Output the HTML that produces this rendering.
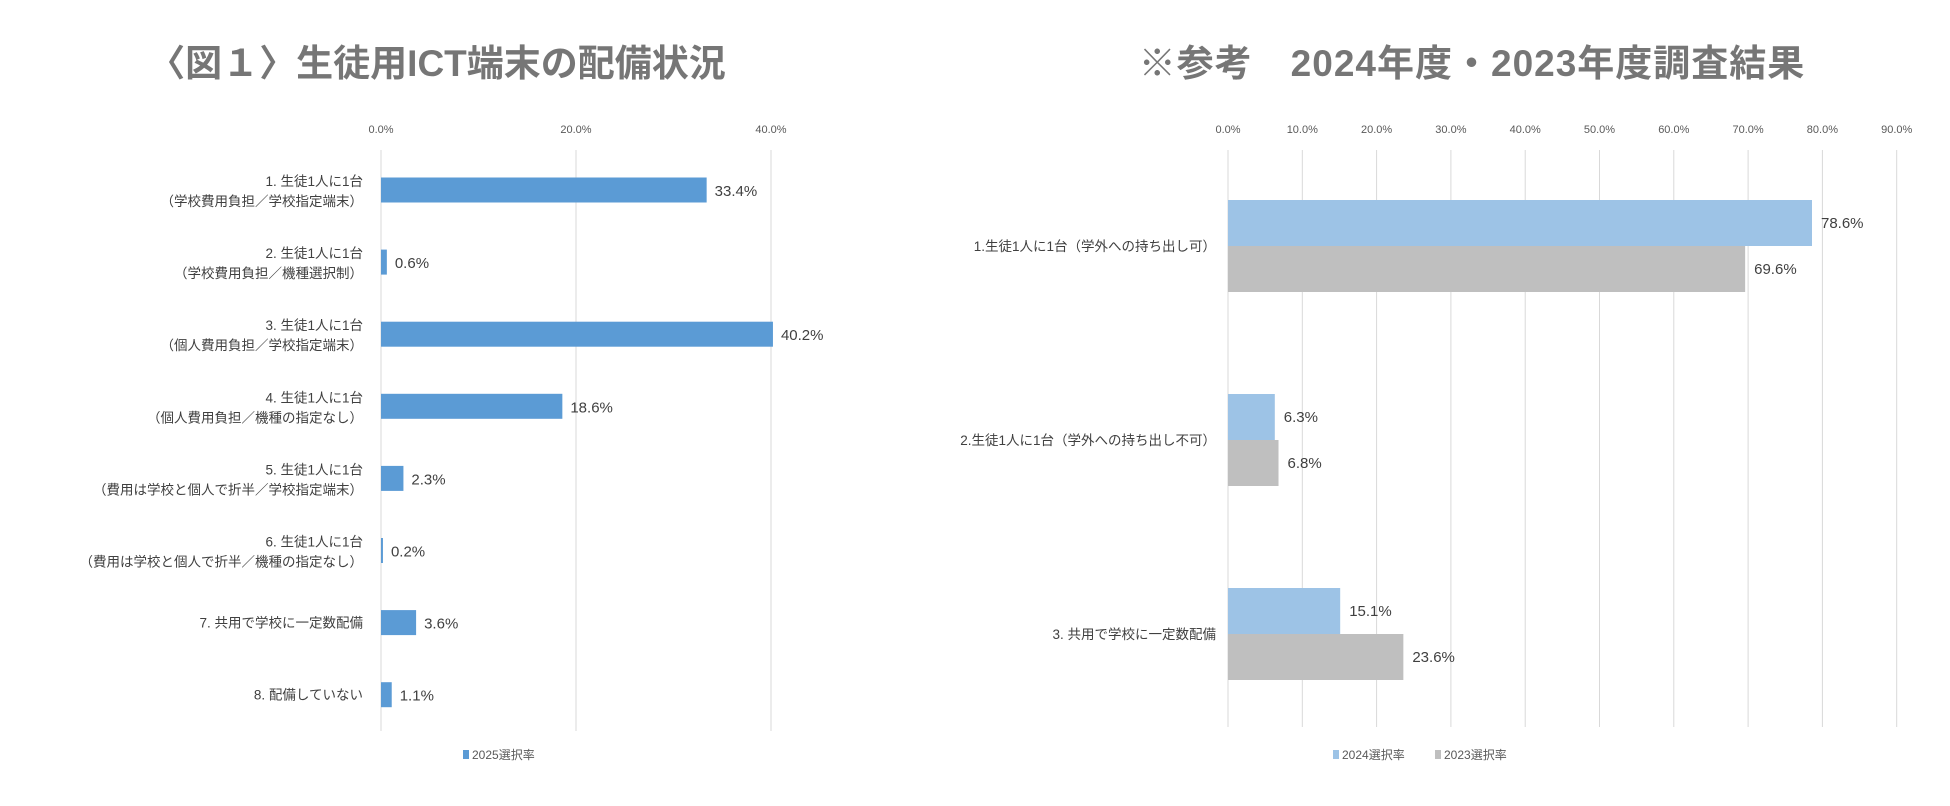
<!DOCTYPE html>
<html><head><meta charset="utf-8"><style>
html,body{margin:0;padding:0;background:#fff;}
svg{display:block;font-family:"Liberation Sans","Noto Sans CJK JP",sans-serif;}
</style></head><body>
<svg id="c" width="1950" height="806" xmlns="http://www.w3.org/2000/svg">
<text x="437" y="76" text-anchor="middle" font-size="37" font-weight="bold" fill="#767676">〈図１〉生徒用ICT端末の配備状況</text>
<text x="1472" y="76" text-anchor="middle" font-size="37" font-weight="bold" fill="#767676" letter-spacing="1">※参考　2024年度・2023年度調査結果</text>
<g id="L"></g>
<g id="R"></g>
</svg>
<script>
const leftCats=[["1.  生徒1人に1台","（学校費用負担／学校指定端末）"],["2.  生徒1人に1台","（学校費用負担／機種選択制）"],["3.  生徒1人に1台","（個人費用負担／学校指定端末）"],["4.  生徒1人に1台","（個人費用負担／機種の指定なし）"],["5.  生徒1人に1台","（費用は学校と個人で折半／学校指定端末）"],["6.  生徒1人に1台","（費用は学校と個人で折半／機種の指定なし）"],["7.  共用で学校に一定数配備"],["8.  配備していない"]];
const leftVals=[33.4,0.6,40.2,18.6,2.3,0.2,3.6,1.1];
const leftTicks=[0,20,40];
const rightCats=["1.生徒1人に1台（学外への持ち出し可）","2.生徒1人に1台（学外への持ち出し不可）","3.  共用で学校に一定数配備"];
const vals2024=[78.6,6.3,15.1];
const vals2023=[69.6,6.8,23.6];
const rightTicks=[0,10,20,30,40,50,60,70,80,90];
const NS="http://www.w3.org/2000/svg";
function mk(p,t,a,txt){const e=document.createElementNS(NS,t);for(const k in a)e.setAttribute(k,a[k]);if(txt!=null)e.textContent=txt;p.appendChild(e);return e;}
// left
const L=document.getElementById('L');
const lx=v=>381+v*9.75, ly=i=>190+i*72.1;
leftTicks.forEach(t=>{
 let g=mk(L,'line',{x1:lx(t),x2:lx(t),y1:150,y2:731,stroke:'#d9d9d9','stroke-width':1});
 
 let tl=mk(L,'text',{x:lx(t),y:133,'text-anchor':'middle','font-size':11,fill:'#595959'},t.toFixed(1)+'%');
 
});
leftCats.forEach((c,i)=>{
 const y=ly(i);
 c.forEach((s,j)=>{
  const yy=c.length==1?y+5:y-4+(j*20);
  let t=mk(L,'text',{x:363,y:yy,'text-anchor':'end','font-size':13.5,fill:'#404040'},s);
  
 });
 let b=mk(L,'rect',{x:lx(0),y:y-12.5,width:Math.max(1,lx(leftVals[i])-lx(0)),height:25,fill:'#5b9bd5'});
 
 let v=mk(L,'text',{x:lx(leftVals[i])+8,y:y+6,'font-size':15,fill:'#404040'},leftVals[i].toFixed(1)+'%');
 
});
let lg=mk(L,'rect',{x:463,y:750,width:6,height:9,fill:'#5b9bd5'});

let lt=mk(L,'text',{x:472,y:759,'font-size':12,fill:'#595959'},'2025選択率');

// right
const R=document.getElementById('R');
const rx=v=>1228+v*7.43, ry=i=>246+i*194;
rightTicks.forEach(t=>{
 let g=mk(R,'line',{x1:rx(t),x2:rx(t),y1:150,y2:727,stroke:'#d9d9d9','stroke-width':1});
 
 let tl=mk(R,'text',{x:rx(t),y:133,'text-anchor':'middle','font-size':11,fill:'#595959'},t.toFixed(1)+'%');
 
});
rightCats.forEach((c,i)=>{
 const y=ry(i);
 let t=mk(R,'text',{x:1216,y:y+5,'text-anchor':'end','font-size':13.5,fill:'#404040'},c);
 
 let b1=mk(R,'rect',{x:rx(0),y:y-46,width:rx(vals2024[i])-rx(0),height:46,fill:'#9dc3e6'});
 
 let b2=mk(R,'rect',{x:rx(0),y:y,width:rx(vals2023[i])-rx(0),height:46,fill:'#bfbfbf'});
 
 let v1=mk(R,'text',{x:rx(vals2024[i])+9,y:y-18,'font-size':15,fill:'#404040'},vals2024[i].toFixed(1)+'%');
 
 let v2=mk(R,'text',{x:rx(vals2023[i])+9,y:y+28,'font-size':15,fill:'#404040'},vals2023[i].toFixed(1)+'%');
 
});
let s1=mk(R,'rect',{x:1333,y:750,width:6,height:9,fill:'#9dc3e6'});

let t1=mk(R,'text',{x:1342,y:759,'font-size':12,fill:'#595959'},'2024選択率');

let s2=mk(R,'rect',{x:1435,y:750,width:6,height:9,fill:'#bfbfbf'});

let t2=mk(R,'text',{x:1444,y:759,'font-size':12,fill:'#595959'},'2023選択率');

</script>
</body></html>
